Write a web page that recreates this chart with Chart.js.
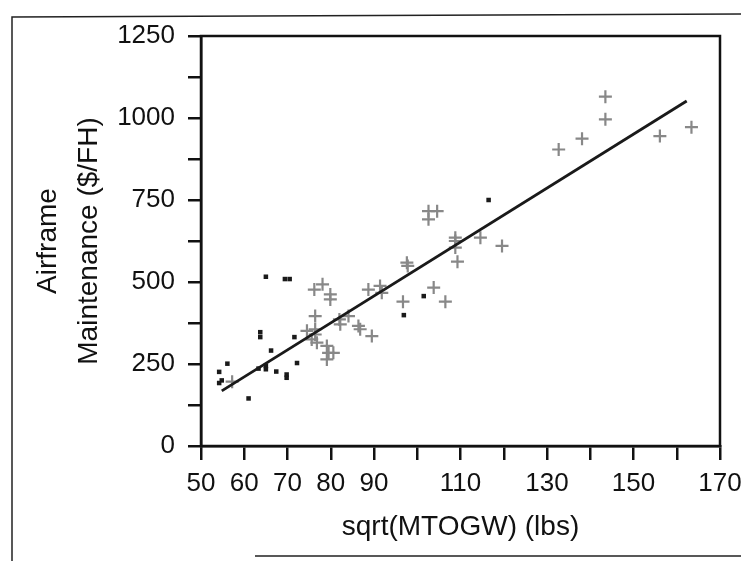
<!DOCTYPE html>
<html>
<head>
<meta charset="utf-8">
<script src="https://cdn.jsdelivr.net/npm/chart.js@4/dist/chart.umd.min.js"></script>
<style>
    html, body { margin: 0; padding: 0; background: #fff; }
    #wrap { width: 741px; height: 561px; }
</style>
</head>
<body>
<div id="wrap"><canvas id="grafico" width="741" height="561"></canvas></div>
<script>
// dados
const squareX = [54.2, 54.8, 54.2, 56.1, 61.0, 63.3, 65.0, 65.0, 63.7, 63.7, 65.0, 66.2, 67.4, 69.4, 70.5, 69.8, 69.8, 71.6, 72.2, 96.9, 101.5, 116.5];
const squareY = [192, 200, 226, 251, 145, 236, 244, 234, 347, 332, 516, 291, 227, 509, 509, 218, 208, 332, 253, 399, 457, 750];

const crossX = [57.2, 74.5, 76.4, 75.6, 76.8, 76.4, 76.4, 76.2, 78.1, 79.9, 79.9, 79.1, 79.5, 79.1, 80.6,
    82.0, 82.2, 84.1, 86.4, 86.8, 89.5, 88.7, 91.4, 91.8, 96.7, 97.6, 97.8, 102.6, 104.6, 102.6,
    103.8, 106.5, 108.8, 108.8, 108.8, 109.3, 114.6, 119.6, 132.7, 138.1, 143.5, 143.5, 156.1, 163.4];
const crossY = [196, 351, 356, 325, 315, 340, 396, 477, 493, 462, 447, 305, 284, 264, 284,
    386, 371, 396, 366, 356, 335, 477, 488, 467, 440, 559, 549, 716, 716, 691,
    483, 440, 635, 625, 605, 562, 635, 610, 904, 937, 1065, 996, 945, 972];

// reta de ajuste (extremos)
const fitX = [54.8, 162.3];
const fitY = [168, 1052];

const xTickLabels = [50, 60, 70, 80, 90, 110, 130, 150, 170];
const yTickLabels = [0, 250, 500, 750, 1000, 1250];

const toPoints = (xs, ys) => xs.map((x, i) => ({ x: x, y: ys[i] }));

const fonte = 'Liberation Sans, Arial, sans-serif';

// moldura do gráfico e da figura
const molduraPlugin = {
    id: 'moldura',
    beforeDraw(chart) {
        const ctx = chart.ctx;
        ctx.save();
        ctx.strokeStyle = '#222';
        ctx.lineWidth = 1.5;
        ctx.beginPath();
        ctx.moveTo(12, 561);
        ctx.lineTo(12, 17);
        ctx.lineTo(741, 14);
        ctx.moveTo(255, 556);
        ctx.lineTo(741, 556);
        ctx.stroke();
        ctx.restore();
    },
    afterDraw(chart) {
        const a = chart.chartArea;
        const ctx = chart.ctx;
        ctx.save();
        ctx.strokeStyle = '#111';
        ctx.lineWidth = 2.5;
        ctx.strokeRect(a.left, a.top, a.right - a.left, a.bottom - a.top);
        ctx.restore();
    }
};

new Chart(document.getElementById('grafico'), {
    type: 'scatter',
    data: {
        datasets: [
            {
                label: 'ajuste',
                type: 'line',
                data: toPoints(fitX, fitY),
                borderColor: '#1a1a1a',
                borderWidth: 2.8,
                pointRadius: 0,
                order: 0
            },
            {
                label: 'cruzes',
                data: toPoints(crossX, crossY),
                pointStyle: 'cross',
                pointRadius: 6.5,
                borderColor: '#888',
                borderWidth: 2.2,
                order: 1
            },
            {
                label: 'quadrados',
                data: toPoints(squareX, squareY),
                pointStyle: 'rect',
                pointRadius: 3.2,
                backgroundColor: '#1a1a1a',
                borderWidth: 0,
                order: 2
            }
        ]
    },
    options: {
        responsive: false,
        animation: false,
        layout: { padding: { top: 36, right: 21, left: 0, bottom: 0 } },
        plugins: {
            legend: { display: false },
            tooltip: { enabled: false }
        },
        scales: {
            x: {
                type: 'linear',
                min: 50,
                max: 170,
                afterFit: (scale) => {
                    scale.height = 115;
                    scale.paddingLeft = 0;
                    scale.paddingRight = 0;
                },
                border: { display: true, color: '#111', width: 2.5 },
                grid: { drawOnChartArea: false, drawTicks: true, tickLength: 14, color: '#111', lineWidth: 2.5 },
                ticks: {
                    stepSize: 10,
                    autoSkip: false,
                    maxRotation: 0,
                    padding: 8,
                    color: '#111',
                    font: { family: fonte, size: 26 },
                    callback: (v) => xTickLabels.includes(v) ? String(v) : ''
                },
                title: {
                    display: true,
                    text: 'sqrt(MTOGW) (lbs)',
                    color: '#111',
                    font: { family: fonte, size: 28 },
                    padding: { top: 0, bottom: 17 }
                }
            },
            y: {
                type: 'linear',
                min: 0,
                max: 1250,
                afterFit: (scale) => { scale.width = 201; },
                border: { display: true, color: '#111', width: 2.5 },
                grid: { drawOnChartArea: false, drawTicks: true, tickLength: 13, color: '#111', lineWidth: 2.5 },
                ticks: {
                    stepSize: 125,
                    autoSkip: false,
                    padding: 13,
                    color: '#111',
                    font: { family: fonte, size: 26 },
                    callback: (v) => yTickLabels.includes(v) ? String(v) : ''
                },
                title: {
                    display: true,
                    text: ['Airframe', 'Maintenance ($/FH)'],
                    color: '#111',
                    font: { family: fonte, size: 28, lineHeight: 1.45 },
                    padding: { top: 28, bottom: 0 }
                }
            }
        }
    },
    plugins: [molduraPlugin]
});
</script>
</body>
</html>
